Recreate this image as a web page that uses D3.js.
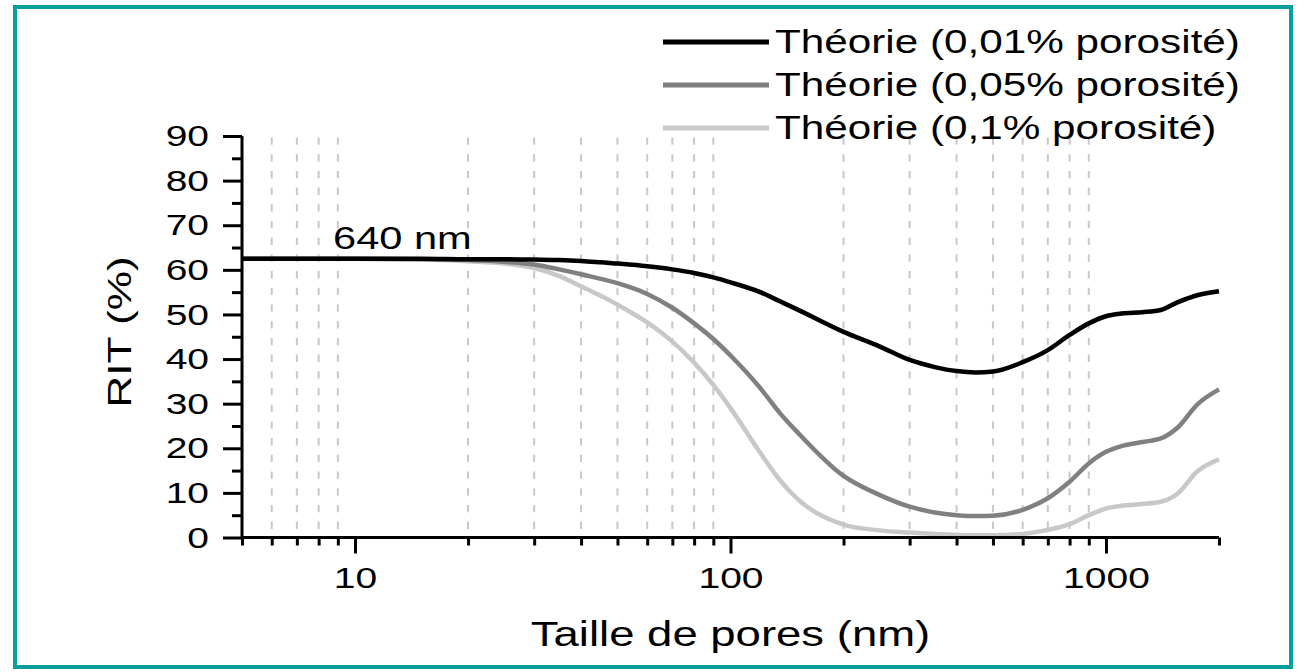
<!DOCTYPE html>
<html><head><meta charset="utf-8">
<script src="https://cdn.jsdelivr.net/npm/d3@7"></script>
<style>
body{margin:0;background:#fff}
svg{display:block}
text{font-family:"Liberation Sans",Arial,sans-serif;fill:#000}
</style>
</head><body>
<svg id="chart" width="1306" height="672"></svg>
<script>
// ---- data ----
const poreSizes = [5,10,15,20,25,30,35,40,50,60,70,80,90,100,120,135,150,200,250,300,350,400,450,500,600,700,800,900,1000,1100,1250,1400,1550,1750,2000];
const rit001 = [62.5,62.5,62.5,62.4,62.4,62.3,62.2,62.0,61.4,60.8,60.1,59.3,58.3,57.2,55.0,53.0,51.2,46.1,42.8,39.8,38.2,37.3,37.0,37.2,39.3,42.0,45.4,48.0,49.6,50.2,50.5,51.0,52.7,54.3,55.2];
const rit005 = [62.5,62.5,62.4,62.2,61.8,61.2,60.1,59.0,57.0,54.6,51.5,48.0,44.5,40.8,33.5,28.0,23.8,13.8,9.5,6.9,5.6,5.0,4.8,4.9,6.2,8.8,12.5,16.6,19.2,20.5,21.4,22.2,24.6,29.8,33.2];
const rit01  = [62.5,62.5,62.3,61.9,61.4,60.4,58.6,56.3,52.2,48.2,43.9,39.2,34.2,29.0,19.0,13.0,8.8,2.9,1.6,1.1,0.8,0.6,0.5,0.5,0.8,1.7,3.0,5.0,6.5,7.1,7.5,8.0,9.8,14.8,17.5];
const seriesNames = ["Théorie (0,01% porosité)","Théorie (0,05% porosité)","Théorie (0,1% porosité)"];
const seriesColors = ["#000000","#808080","#c8c8c8"];
const yTicks = [0,10,20,30,40,50,60,70,80,90];
const yMinorTicks = [5,15,25,35,45,55,65,75,85];
const xMajorTicks = [10,100,1000];
const xMinorTicks = [6,7,8,9,20,30,40,50,60,70,80,90,200,300,400,500,600,700,800,900];
const xEndTicks = [5,2000];
const annotation = "640 nm";
const xTitle = "Taille de pores (nm)";
const yTitle = "RIT (%)";

const SX = 1.3; // horizontal stretch of the glyphs in the reference

const svg = d3.select("#chart");

// frame
svg.append("rect").attr("x",15).attr("y",7).attr("width",1276).attr("height",660)
  .attr("fill","none").attr("stroke","#0a9e9c").attr("stroke-width",4);

const pLeft = 242, pRight = 1219, pTop = 136, pBottom = 537.5;
const x = d3.scaleLog().domain([5,2000]).range([pLeft,pRight]);
const y = d3.scaleLinear().domain([0,90]).range([pBottom,pTop]);

// dashed grid lines at minor x positions
svg.append("g").selectAll("line").data(xMinorTicks).join("line")
  .attr("x1",d=>x(d)).attr("x2",d=>x(d))
  .attr("y1",pTop+1.5).attr("y2",pBottom)
  .attr("stroke","#c8c8c8").attr("stroke-width",2).attr("stroke-dasharray","7.3,9.4");

// curves
const line = d3.line().x((d,i)=>x(poreSizes[i])).y(d=>y(d)).curve(d3.curveMonotoneX);
[rit01, rit005, rit001].forEach((s,k)=>{
  const idx = 2-k;
  svg.append("path").datum(s).attr("d",line).attr("fill","none")
    .attr("stroke",seriesColors[idx]).attr("stroke-width",4.5).attr("stroke-linejoin","round");
});

// axes
const fmt = d3.format("d");
const yAxis = svg.append("g").attr("transform",`translate(${pLeft},0)`)
  .call(d3.axisLeft(y).tickValues(yTicks).tickSize(19).tickPadding(14).tickFormat(fmt));
const yMinor = svg.append("g").attr("transform",`translate(${pLeft},0)`)
  .call(d3.axisLeft(y).tickValues(yMinorTicks).tickSize(10).tickFormat(""));
const xAxis = svg.append("g").attr("transform",`translate(0,${pBottom})`)
  .call(d3.axisBottom(x).tickValues(xMajorTicks).tickSize(16).tickPadding(13).tickFormat(fmt));
const xMinor = svg.append("g").attr("transform",`translate(0,${pBottom})`)
  .call(d3.axisBottom(x).tickValues(xMinorTicks.concat(xEndTicks)).tickSize(8).tickFormat(""));

[yAxis,yMinor,xAxis,xMinor].forEach(g=>{
  g.select(".domain").attr("stroke","#000").attr("stroke-width",3);
  g.selectAll(".tick line").attr("stroke","#000").attr("stroke-width",3);
});
yMinor.select(".domain").remove();
xMinor.select(".domain").remove();
yAxis.select(".domain").attr("d",`M0,${pTop}V${pBottom}`);
xAxis.select(".domain").attr("d",`M${pLeft},0H${pRight}`);

yAxis.selectAll(".tick text").attr("font-size",30).attr("fill","#000")
  .attr("x",-33/SX).attr("transform",`scale(${SX},1)`)
  .style("font-family",'"Liberation Sans",Arial,sans-serif');
xAxis.selectAll(".tick text").attr("font-size",30).attr("fill","#000")
  .attr("transform",`scale(${SX},1)`)
  .style("font-family",'"Liberation Sans",Arial,sans-serif');

function stretchedText(px,py,str,size,anchor,rot){
  const g = svg.append("g").attr("transform",`translate(${px},${py})${rot?` rotate(${rot})`:""}`);
  g.append("text").attr("transform",`scale(${SX},1)`).attr("font-size",size)
    .attr("text-anchor",anchor||"start").text(str);
}

// annotation
stretchedText(333,249,annotation,32,"start");
// axis titles
stretchedText((pLeft+pRight)/2,646,xTitle,35,"middle");
stretchedText(131,332,yTitle,34,"middle",-90);

// legend
const legY = [42,85,128];
seriesNames.forEach((n,i)=>{
  svg.append("line").attr("x1",663).attr("x2",769).attr("y1",legY[i]).attr("y2",legY[i])
    .attr("stroke",seriesColors[i]).attr("stroke-width",5);
  stretchedText(775,legY[i]+11,n,32.5,"start");
});
</script>
</body></html>
